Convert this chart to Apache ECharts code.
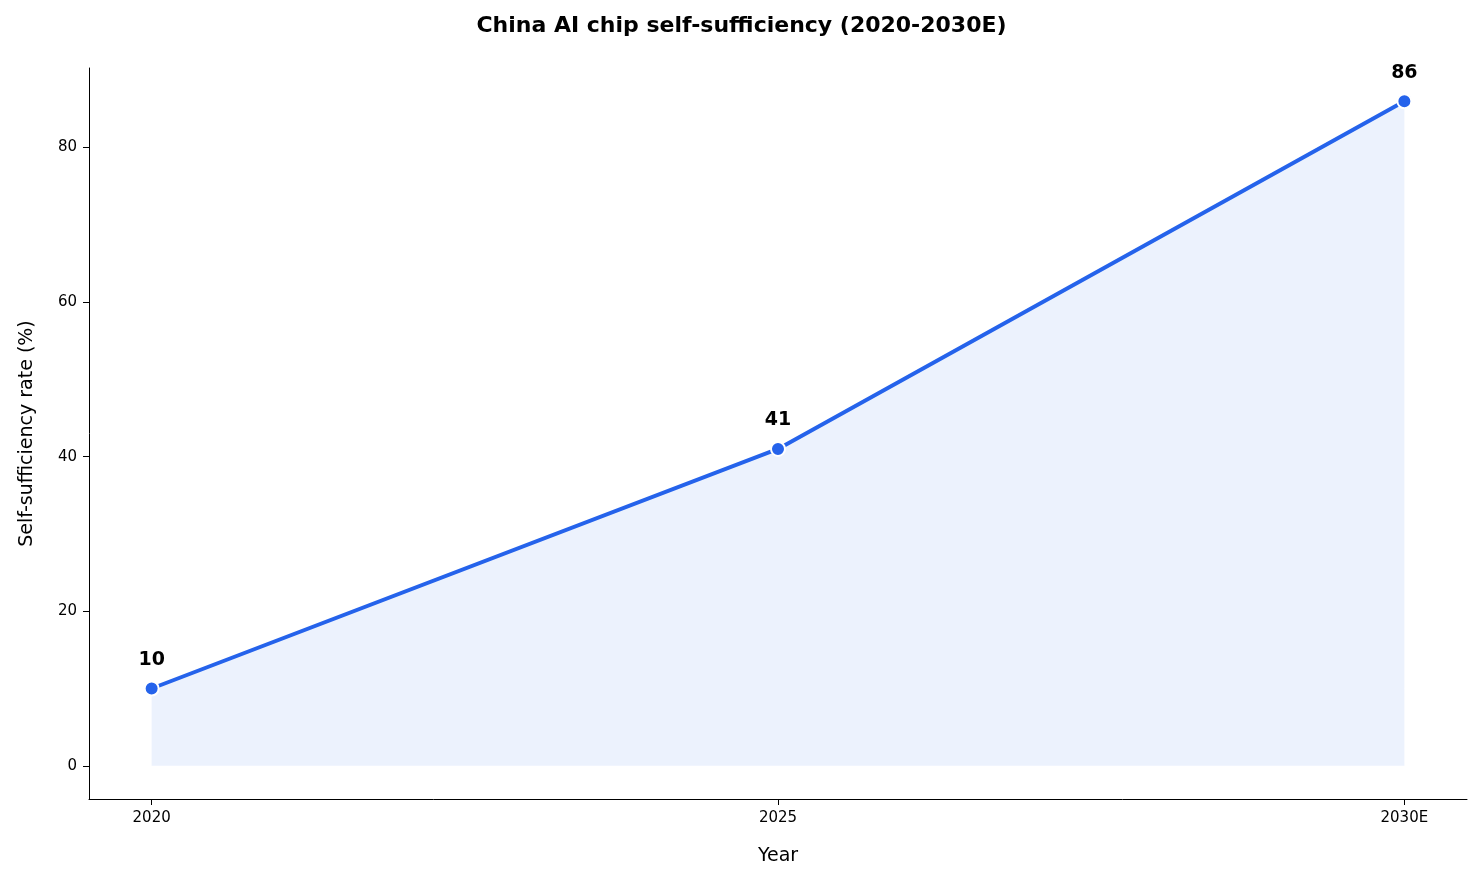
<!DOCTYPE html>
<html><head><meta charset="utf-8">
<script src="https://cdn.jsdelivr.net/npm/echarts@6/dist/echarts.min.js"></script>
<style>html,body{margin:0;padding:0;background:#fff}#c{width:1483px;height:884px}</style>
</head><body><div id="c"></div>
<script>
const categories = ['2020', '2025', '2030E'];
const values = [10, 41, 86];
const yTicks = [0, 20, 40, 60, 80];

const chart = echarts.init(document.getElementById('c'));
const font = 'DejaVu Sans';
chart.setOption({
  animation: false,
  textStyle: { fontFamily: font },
  title: { text: 'China AI chip self-sufficiency (2020-2030E)', left: 'center', top: 10,
    textStyle: { fontFamily: font, fontSize: 22, fontWeight: 'bold', color: '#000' } },
  grid: { left: 89, right: 16, top: 68, bottom: 85 },
  xAxis: {
    type: 'value', min: -0.1, max: 2.1,
    name: 'Year', nameLocation: 'middle', nameGap: 48,
    nameTextStyle: { fontFamily: font, fontSize: 19, color: '#000' },
    axisLine: { onZero: false, lineStyle: { color: '#000' } },
    axisTick: { customValues: [0, 1, 2], length: 6, lineStyle: { color: '#000' } },
    axisLabel: { customValues: [0, 1, 2], formatter: v => categories[Math.round(v)], color: '#000', fontSize: 15, margin: 12, fontFamily: font },
    splitLine: { show: false }
  },
  yAxis: {
    type: 'value', min: -4.3, max: 90.3,
    name: 'Self-sufficiency rate (%)', nameLocation: 'middle', nameGap: 52,
    nameTextStyle: { fontFamily: font, fontSize: 19, color: '#000' },
    axisLine: { show: true, onZero: false, lineStyle: { color: '#000' } },
    axisTick: { show: true, customValues: yTicks, length: 6, lineStyle: { color: '#000' } },
    axisLabel: { customValues: yTicks, color: '#000', fontSize: 15, margin: 12, fontFamily: font },
    splitLine: { show: false }
  },
  series: [{
    type: 'line',
    data: values.map((v, i) => [i, v]),
    symbol: 'circle', symbolSize: 14,
    itemStyle: { color: '#2563eb', borderColor: '#fff', borderWidth: 2 },
    lineStyle: { color: '#2563eb', width: 4 },
    areaStyle: { origin: 'auto', color: 'rgba(37,99,235,0.12)' },
    label: { show: true, position: 'top', distance: 11, fontSize: 19, fontWeight: 'bold', color: '#000', fontFamily: font }
  }]
});
</script></body></html>
